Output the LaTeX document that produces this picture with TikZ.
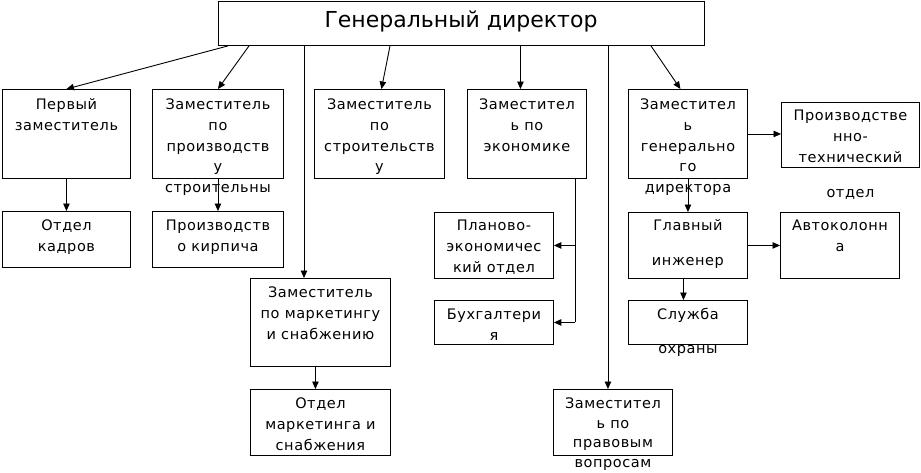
\documentclass[tikz,border=0pt]{standalone}
\usepackage{fontspec}
\setmainfont{DejaVu Sans}
\newfontfamily\boxfont[LetterSpace=4]{DejaVu Sans}
\usetikzlibrary{arrows.meta}
\newcommand\tst{\rule{0pt}{11.5pt}}
\begin{document}
\begin{tikzpicture}[x=1pt,y=-1pt,
  box/.style={draw, line width=0.9pt, inner sep=0pt, anchor=north west},
  txt/.style={anchor=north, align=center, inner sep=0pt, font=\boxfont\fontsize{14.5}{20.75}\selectfont},
  arr/.style={-{Triangle[length=7.5pt,width=6.5pt]}, line width=0.9pt},
  ln/.style={line width=0.9pt}]
\useasboundingbox (0,0) rectangle (921,472);
% boxes
\node[box, minimum width=486pt, minimum height=44pt] (T) at (218,1) {};
\node[box, minimum width=128pt, minimum height=89pt] (b1) at (2,89) {};
\node[box, minimum width=131pt, minimum height=89pt] (b2) at (152,89) {};
\node[box, minimum width=130pt, minimum height=89pt] (b3) at (314,89) {};
\node[box, minimum width=119pt, minimum height=89pt] (b4) at (467,89) {};
\node[box, minimum width=119pt, minimum height=89pt] (b5) at (628,89) {};
\node[box, minimum width=138pt, minimum height=65pt] (b6) at (781,102) {};
\node[box, minimum width=128pt, minimum height=56pt] (ok) at (2,211) {};
\node[box, minimum width=131pt, minimum height=56pt] (pk) at (152,211) {};
\node[box, minimum width=119pt, minimum height=66pt] (pe) at (434,212) {};
\node[box, minimum width=119pt, minimum height=66pt] (gi) at (628,212) {};
\node[box, minimum width=119pt, minimum height=66pt] (ak) at (780,212) {};
\node[box, minimum width=119pt, minimum height=44pt] (bu) at (434,300) {};
\node[box, minimum width=119pt, minimum height=44pt] (so) at (628,300) {};
\node[box, minimum width=140pt, minimum height=88pt] (mk) at (250,278) {};
\node[box, minimum width=140pt, minimum height=66pt] (om) at (250,389) {};
\node[box, minimum width=119pt, minimum height=66pt] (lg) at (553,389) {};
% texts
\node[anchor=base, inner sep=0pt, font=\fontsize{22}{27}\selectfont] (tt) at (461,27.5) {Генеральный директор};
\node[txt] (t1) at (b1.north |- 0,98) {\tst Первый\\заместитель};
\node[txt] (t2) at (b2.north |- 0,98) {\tst Заместитель\\по\\производств\\у\\строительны};
\node[txt] (t3) at (b3.north |- 0,98) {\tst Заместитель\\по\\строительств\\у};
\node[txt] (t4) at (b4.north |- 0,98) {\tst Заместител\\ь по\\экономике};
\node[txt] (t5) at (b5.north |- 0,98) {\tst Заместител\\ь\\генерально\\го\\директора};
\node[txt] (t6) at (b6.north |- 0,109) {\tst Производстве\\нно-\\технический\\[15pt]отдел};
\node[txt] (tok) at (ok.north |- 0,219) {\tst Отдел\\кадров};
\node[txt] (tpk) at (pk.north |- 0,219) {\tst Производств\\о кирпича};
\node[txt] (tpe) at (pe.north |- 0,219) {\tst Планово-\\экономичес\\кий отдел};
\node[txt] (tgi) at (gi.north |- 0,219) {\tst Главный\\[14pt]инженер};
\node[txt] (tak) at (ak.north |- 0,219) {\tst Автоколонн\\а};
\node[txt] (tbu) at (bu.north |- 0,308) {\tst Бухгалтери\\я};
\node[txt] (tso) at (so.north |- 0,308) {\tst Служба\\[13pt]охраны};
\node[txt] (tmk) at (mk.north |- 0,286) {\tst Заместитель\\по маркетингу\\и снабжению};
\node[txt] (tom) at (om.north |- 0,397) {\tst Отдел\\маркетинга и\\снабжения};
\node[txt, font=\boxfont\fontsize{14.5}{19.5}\selectfont] (tlg) at (lg.north |- 0,397) {\tst Заместител\\ь по\\правовым\\вопросам};
% connectors
\draw[arr] ([xshift=10pt]T.south west) -- (b1.north);
\draw[arr] ([xshift=31pt]T.south west) -- (b2.north);
\draw[arr] ([xshift=86pt]T.south west) coordinate (s3) -- (s3 |- mk.north);
\draw[arr] ([xshift=172pt]T.south west) -- ([xshift=2pt]b3.north);
\draw[arr] ([xshift=-6.5pt]b4.north |- T.south) -- ([xshift=-6.5pt]b4.north);
\draw[arr] ([xshift=-5pt]lg.north |- T.south) -- ([xshift=-5pt]lg.north);
\draw[arr] ([xshift=433pt]T.south west) -- ([xshift=-7.5pt]b5.north);
\draw[arr] (b5.east) -- (b5.east -| b6.west);
\draw[arr] (b5.south) -- (gi.north);
\coordinate (e) at ([xshift=48.5pt]b4.south);
\draw[ln] (e) -- (e |- bu.east);
\draw[arr] (e |- pe.east) -- (pe.east);
\draw[arr] (e |- bu.east) -- (bu.east);
\draw[arr] (gi.east) -- (ak.west);
\draw[arr] ([xshift=-4.5pt]gi.south) -- ([xshift=-4.5pt]so.north);
\draw[arr] (b1.south) -- (ok.north);
\draw[arr] (b2.south) -- (pk.north);
\draw[arr] ([xshift=-5pt]mk.south) -- ([xshift=-5pt]om.north);
\end{tikzpicture}
\end{document}
